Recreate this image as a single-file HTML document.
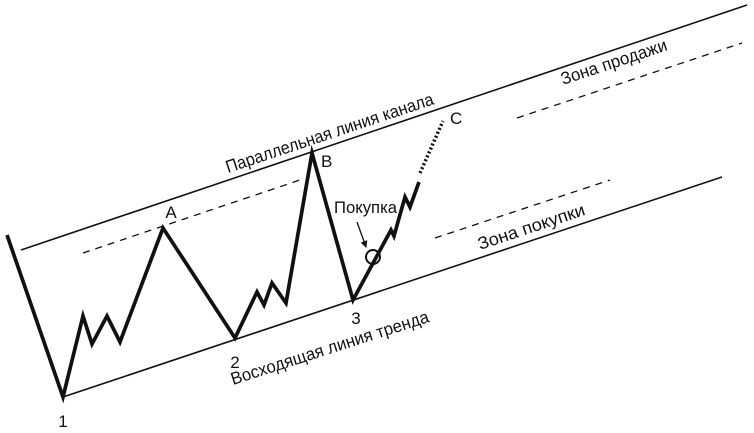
<!DOCTYPE html>
<html><head><meta charset="utf-8"><style>
html,body{margin:0;padding:0;background:#fff;}
svg{display:block;}
text{font-family:"Liberation Sans","DejaVu Sans",sans-serif;fill:#111;font-size:17px;}
.r{font-size:17.5px;}
</style></head><body>
<svg width="754" height="433" viewBox="0 0 754 433" xmlns="http://www.w3.org/2000/svg">
<defs>
<marker id="ah" markerWidth="8" markerHeight="8" refX="6" refY="4" orient="auto" markerUnits="userSpaceOnUse">
<path d="M0,0.5 L7,4 L0,7.5 Z" fill="#111"/>
</marker>
</defs>
<line x1="21" y1="250" x2="747" y2="5" stroke="#111" stroke-width="1.6"/>
<line x1="63" y1="397" x2="722" y2="177" stroke="#111" stroke-width="1.6"/>
<g stroke="#111" stroke-width="1.3" stroke-dasharray="7 6" fill="none">
<line x1="83" y1="253" x2="300" y2="180"/>
<line x1="517" y1="118" x2="742" y2="43"/>
<line x1="435" y1="238" x2="610" y2="180"/>
</g>
<polyline fill="none" stroke="#111" stroke-width="3.7" stroke-linejoin="miter" stroke-miterlimit="10"
points="7,235 63,397 83,316 92,344 107,316 120,342 163,228 235,338 257,292 264,305 272,283 286,303 312,153 353,300 391,230 394,236 405,197 410,207 419,182"/>
<line x1="420" y1="173" x2="443" y2="121" stroke="#111" stroke-width="3.5" stroke-dasharray="2 2.3"/>
<circle cx="373" cy="257" r="7" fill="none" stroke="#111" stroke-width="2"/>
<line x1="357" y1="222" x2="366" y2="247" stroke="#111" stroke-width="1.3" marker-end="url(#ah)"/>
<text x="63" y="427" text-anchor="middle">1</text>
<text x="235" y="368" text-anchor="middle">2</text>
<text x="356" y="324" text-anchor="middle">3</text>
<text x="171" y="218" text-anchor="middle">A</text>
<text x="321" y="167">B</text>
<text x="450" y="124">C</text>
<text x="334" y="213" textLength="63" lengthAdjust="spacingAndGlyphs">Покупка</text>
<text class="r" transform="translate(228,173) rotate(-18.43)" textLength="218" lengthAdjust="spacingAndGlyphs">Параллельная линия канала</text>
<text class="r" transform="translate(563,85) rotate(-18.43)" textLength="111" lengthAdjust="spacingAndGlyphs">Зона продажи</text>
<text class="r" transform="translate(480,250) rotate(-18.43)" textLength="112" lengthAdjust="spacingAndGlyphs">Зона покупки</text>
<text class="r" transform="translate(233,385) rotate(-17.8)" textLength="207" lengthAdjust="spacingAndGlyphs">Восходящая линия тренда</text>
</svg>
</body></html>
